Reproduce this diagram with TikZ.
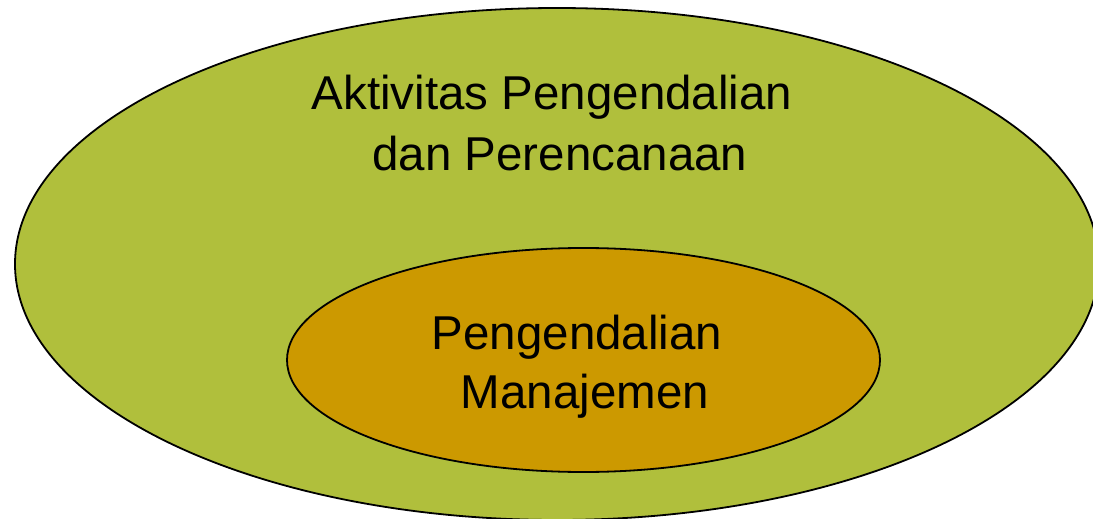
\documentclass[tikz,border=0pt]{standalone}
\usepackage{fontspec}
\setmainfont{Liberation Sans}
\usetikzlibrary{shapes.geometric}
\definecolor{outergreen}{HTML}{B0BF3C}
\definecolor{innerorange}{HTML}{CC9900}
\begin{document}
\begin{tikzpicture}[x=1pt,y=-1pt,
  blob/.style={ellipse, draw=black, line width=1.8pt, inner sep=0pt},
  label/.style={anchor=base, inner sep=0pt, font=\fontsize{47.5}{59}\selectfont}]
\useasboundingbox (0,0) rectangle (1093,519);
\begin{scope}
\clip (0,0) rectangle (1093,519);
\node[blob, fill=outergreen, minimum width=1084pt, minimum height=512pt] (outer) at (557,264) {};
\node[blob, fill=innerorange, minimum width=593pt, minimum height=224pt] (inner) at (583.5,360) {};
\end{scope}
\node[label] (o1) at (552,110) {Aktivitas Pengendalian};
\node[label] (o2) at (560,170) {dan Perencanaan};
\node[label] (i1) at (577,349) {Pengendalian};
\node[label] (i2) at (585,408) {Manajemen};
\end{tikzpicture}
\end{document}
